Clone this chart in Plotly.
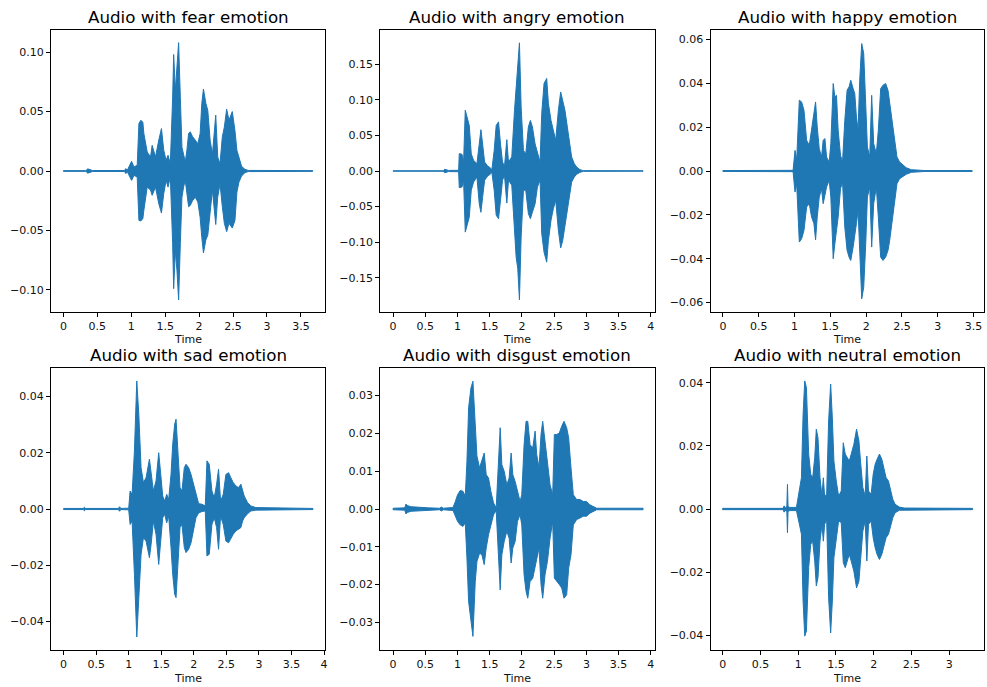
import plotly.graph_objects as go

# ---------------- data: amplitude envelope (upper / lower) ----------------
fear_t = [0, 0.33, 0.36, 0.39, 0.43, 0.90, 0.92, 0.94, 1.005, 1.04, 1.088, 1.113, 1.142, 1.171, 1.186, 1.235, 1.284, 1.308,
          1.357, 1.406, 1.445, 1.479, 1.513, 1.542, 1.576, 1.61, 1.625, 1.65, 1.674, 1.698, 1.723, 1.747, 1.771, 1.796, 1.82,
          1.845, 1.869, 1.903, 1.943, 1.981, 2.015, 2.04, 2.064, 2.099, 2.128, 2.162, 2.196, 2.245, 2.274, 2.308, 2.342, 2.372,
          2.406, 2.44, 2.489, 2.528, 2.557, 2.587, 2.626, 2.675, 2.723, 3.675]
fear_up = [0.0003, 0.0003, 0.0018, 0.0012, 0.0004, 0.0004, 0.0020, 0.0004, 0.0081, 0.0034, 0.0048, 0.040, 0.0427, 0.041,
           0.0315, 0.016, 0.0118, 0.0216, 0.0118, 0.026, 0.0357, 0.0174, 0.009, 0.0132, 0.0062, 0.062, 0.098, 0.068, 0.085,
           0.108, 0.062, 0.020, 0.014, 0.0076, 0.0174, 0.0315, 0.033, 0.029, 0.026, 0.023, 0.0315, 0.057, 0.069, 0.057, 0.051,
           0.026, 0.014, 0.047, 0.0118, 0.0062, 0.0287, 0.037, 0.052, 0.0427, 0.050, 0.034, 0.0174, 0.0104, 0.0039, 0.0014,
           0.0005, 0.0003]
fear_lo = [-0.0003, -0.0003, -0.0018, -0.0012, -0.0004, -0.0004, -0.0022, -0.0004, -0.0079, -0.0037, -0.005, -0.0416, -0.042,
           -0.040, -0.033, -0.0135, -0.016, -0.0205, -0.0135, -0.0275, -0.0354, -0.019, -0.0079, -0.0135, -0.005, -0.061,
           -0.099, -0.067, -0.084, -0.1085, -0.061, -0.022, -0.0135, -0.0079, -0.019, -0.030, -0.029, -0.025, -0.022, -0.026,
           -0.039, -0.056, -0.069, -0.058, -0.054, -0.033, -0.016, -0.045, -0.022, -0.0107, -0.030, -0.044, -0.051, -0.044,
           -0.048, -0.0416, -0.0177, -0.0093, -0.0042, -0.0014, -0.0005, -0.0003]

angry_t = [0, 0.78, 0.80, 0.83, 0.86, 1.017, 1.027, 1.069, 1.094, 1.12, 1.146, 1.182, 1.213, 1.249, 1.301, 1.337, 1.363,
           1.389, 1.42, 1.471, 1.507, 1.533, 1.569, 1.60, 1.636, 1.667, 1.698, 1.729, 1.765, 1.791, 1.842, 1.884, 1.91, 1.935,
           1.961, 1.987, 2.023, 2.059, 2.10, 2.131, 2.162, 2.204, 2.24, 2.281, 2.307, 2.343, 2.384, 2.41, 2.451, 2.487, 2.524,
           2.565, 2.601, 2.632, 2.668, 2.704, 2.735, 2.771, 2.813, 2.849, 2.90, 2.952, 3.88]
angry_up = [0.0003, 0.0003, 0.0025, 0.0015, 0.0008, 0.0010, 0.0244, 0.0235, 0.0127, 0.0854, 0.076, 0.064, 0.024, 0.015,
            0.0103, 0.043, 0.058, 0.038, 0.0127, 0.0066, 0.0047, 0.0019, 0.029, 0.064, 0.069, 0.038, 0.0127, 0.0066, 0.044,
            0.0127, 0.0197, 0.085, 0.118, 0.135, 0.180, 0.090, 0.029, 0.024, 0.062, 0.071, 0.062, 0.038, 0.027, 0.0127, 0.081,
            0.123, 0.130, 0.095, 0.071, 0.057, 0.043, 0.085, 0.111, 0.099, 0.085, 0.062, 0.043, 0.0197, 0.0103, 0.0056,
            0.0019, 0.0005, 0.0003]
angry_lo = [-0.0003, -0.0003, -0.0025, -0.0015, -0.0008, -0.0010, -0.0235, -0.0225, -0.0131, -0.0858, -0.079, -0.065,
            -0.027, -0.0155, -0.0084, -0.046, -0.058, -0.037, -0.0131, -0.0066, -0.0047, -0.0019, -0.027, -0.062, -0.067,
            -0.041, -0.0131, -0.0061, -0.045, -0.0131, -0.020, -0.083, -0.121, -0.137, -0.181, -0.093, -0.027, -0.027, -0.060,
            -0.067, -0.058, -0.046, -0.0225, -0.0131, -0.088, -0.114, -0.128, -0.098, -0.069, -0.053, -0.041, -0.083, -0.108,
            -0.098, -0.079, -0.062, -0.037, -0.0155, -0.0084, -0.0047, -0.0019, -0.0005, -0.0003]

happy_t = [0, 0.98, 1.007, 1.03, 1.067, 1.099, 1.132, 1.169, 1.206, 1.238, 1.271, 1.294, 1.317, 1.345, 1.377, 1.40, 1.424,
           1.447, 1.484, 1.507, 1.54, 1.563, 1.586, 1.609, 1.642, 1.67, 1.702, 1.734, 1.762, 1.785, 1.818, 1.841, 1.864, 1.887,
           1.91, 1.938, 1.966, 1.994, 2.017, 2.05, 2.077, 2.105, 2.142, 2.17, 2.203, 2.235, 2.272, 2.305, 2.328, 2.365, 2.397,
           2.43, 2.467, 2.513, 2.56, 2.629, 2.75, 2.82, 3.48]
happy_up = [0.0002, 0.0003, 0.0094, 0.0049, 0.0323, 0.0315, 0.0277, 0.014, 0.0117, 0.0186, 0.0247, 0.0315, 0.0201, 0.0102,
            0.0064, 0.014, 0.0148, 0.0064, 0.0041, 0.0125, 0.0399, 0.0338, 0.0345, 0.0186, 0.0072, 0.0041, 0.0231, 0.0368,
            0.0384, 0.0414, 0.0376, 0.0353, 0.0247, 0.0186, 0.0414, 0.0581, 0.0536, 0.0338, 0.011, 0.0064, 0.0345, 0.0125,
            0.0079, 0.0186, 0.0376, 0.0391, 0.0399, 0.0368, 0.0307, 0.0231, 0.014, 0.0064, 0.0041, 0.0026, 0.0015, 0.0006,
            0.0004, 0.0002, 0.0002]
happy_lo = [-0.0002, -0.0003, -0.0096, -0.0058, -0.0324, -0.0309, -0.0271, -0.0164, -0.0149, -0.021, -0.024, -0.0314,
            -0.021, -0.0119, -0.0081, -0.0149, -0.0111, -0.0073, -0.0043, -0.0119, -0.040, -0.0332, -0.0286, -0.021, -0.0081,
            -0.005, -0.0256, -0.0362, -0.0393, -0.0408, -0.0347, -0.0301, -0.024, -0.018, -0.0393, -0.0583, -0.053, -0.0332,
            -0.0119, -0.0073, -0.0347, -0.0149, -0.0073, -0.021, -0.0393, -0.0408, -0.0393, -0.0362, -0.0317, -0.024, -0.0149,
            -0.0058, -0.0035, -0.0027, -0.0015, -0.0006, -0.0004, -0.0002, -0.0002]

sad_t = [0, 0.30, 0.32, 0.34, 0.84, 0.86, 0.88, 1.00, 1.022, 1.052, 1.088, 1.124, 1.155, 1.19, 1.226, 1.267, 1.318, 1.344,
         1.379, 1.42, 1.461, 1.492, 1.522, 1.553, 1.584, 1.614, 1.65, 1.676, 1.706, 1.727, 1.757, 1.788, 1.818, 1.854, 1.88,
         1.921, 1.957, 1.992, 2.033, 2.074, 2.125, 2.176, 2.202, 2.237, 2.278, 2.314, 2.35, 2.38, 2.411, 2.452, 2.493, 2.534,
         2.569, 2.605, 2.646, 2.687, 2.723, 2.749, 2.774, 2.825, 2.876, 2.953, 3.83]
sad_up = [0.0002, 0.0002, 0.0006, 0.0002, 0.0002, 0.0008, 0.0002, 0.0003, 0.0064, 0.0052, 0.0206, 0.0455, 0.0337, 0.0147,
          0.0094, 0.0111, 0.0177, 0.0123, 0.0064, 0.010, 0.020, 0.0123, 0.0046, 0.0028, 0.0052, 0.0034, 0.0123, 0.023, 0.0301,
          0.0319, 0.0218, 0.0076, 0.0064, 0.0147, 0.0159, 0.0147, 0.0123, 0.0094, 0.0052, 0.0019, 0.0017, 0.0011, 0.0171,
          0.0159, 0.0064, 0.004, 0.0088, 0.0141, 0.0028, 0.0052, 0.0123, 0.0129, 0.0111, 0.0094, 0.0082, 0.0076, 0.0088,
          0.0064, 0.0046, 0.0023, 0.0011, 0.0005, 0.0002]
sad_lo = [-0.0002, -0.0002, -0.0006, -0.0002, -0.0002, -0.0008, -0.0002, -0.0003, -0.0055, -0.0043, -0.0232, -0.0455,
          -0.0327, -0.0161, -0.0102, -0.0114, -0.0173, -0.0126, -0.0043, -0.009, -0.0197, -0.0114, -0.0031, -0.0019, -0.0049,
          -0.0025, -0.0137, -0.0232, -0.0303, -0.0315, -0.0209, -0.0066, -0.0055, -0.0137, -0.0155, -0.0143, -0.012, -0.0078,
          -0.0031, -0.0014, -0.0009, -0.0007, -0.0167, -0.0161, -0.0055, -0.0031, -0.0066, -0.0143, -0.0025, -0.0055,
          -0.0114, -0.012, -0.0108, -0.009, -0.0078, -0.0072, -0.0066, -0.0043, -0.0031, -0.0017, -0.0007, -0.0004, -0.0002]

disgust_t = [0, 0.18, 0.20, 0.22, 0.28, 0.40, 0.55, 0.72, 0.75, 0.78, 0.93, 0.966, 1.001, 1.042, 1.084, 1.12, 1.146,
             1.172, 1.208, 1.239, 1.275, 1.301, 1.342, 1.378, 1.414, 1.445, 1.481, 1.517, 1.559, 1.60, 1.636, 1.662, 1.688,
             1.724, 1.765, 1.801, 1.832, 1.858, 1.894, 1.93, 1.971, 1.997, 2.033, 2.064, 2.09, 2.126, 2.168, 2.204, 2.229,
             2.265, 2.296, 2.322, 2.358, 2.395, 2.436, 2.477, 2.503, 2.539, 2.58, 2.617, 2.653, 2.694, 2.725, 2.761, 2.797,
             2.849, 2.90, 2.952, 3.003, 3.055, 3.107, 3.16, 3.88]
disgust_up = [0.0002, 0.0003, 0.0013, 0.0009, 0.0006, 0.0004, 0.0003, 0.0002, 0.0005, 0.0002, 0.0004, 0.002, 0.0038,
              0.0049, 0.0047, 0.0034, 0.0126, 0.0268, 0.032, 0.0338, 0.0197, 0.014, 0.0109, 0.0126, 0.0148, 0.0091, 0.0082,
              0.0047, 0.0016, 0.0003, 0.0117, 0.0215, 0.0117, 0.010, 0.0064, 0.0082, 0.0148, 0.0091, 0.0073, 0.0047, 0.002,
              0.0038, 0.017, 0.0232, 0.0232, 0.017, 0.0162, 0.0206, 0.0144, 0.0109, 0.0197, 0.0232, 0.0179, 0.0126, 0.0064,
              0.0038, 0.0197, 0.0197, 0.0201, 0.0219, 0.0232, 0.0215, 0.0188, 0.0109, 0.0038, 0.0025, 0.0025, 0.002, 0.002,
              0.0011, 0.0007, 0.0002, 0.0002]
disgust_lo = [-0.0002, -0.0003, -0.0013, -0.0009, -0.0006, -0.0004, -0.0003, -0.0002, -0.0005, -0.0002, -0.0004, -0.0019,
              -0.0033, -0.0042, -0.0046, -0.0037, -0.013, -0.0245, -0.0298, -0.0337, -0.0192, -0.0139, -0.0117, -0.0121,
              -0.0147, -0.0103, -0.0068, -0.0042, -0.0015, -0.0004, -0.0121, -0.0214, -0.0121, -0.0086, -0.0059, -0.0077,
              -0.0143, -0.0103, -0.0086, -0.0033, -0.0015, -0.0042, -0.0174, -0.0218, -0.0236, -0.0192, -0.0183, -0.0156,
              -0.013, -0.0103, -0.02, -0.0236, -0.0174, -0.0139, -0.0077, -0.0033, -0.0183, -0.0192, -0.02, -0.0209, -0.0236,
              -0.0227, -0.0156, -0.0121, -0.0042, -0.0028, -0.0024, -0.0019, -0.0019, -0.0011, -0.0006, -0.0002, -0.0002]

neutral_t = [0, 0.80, 0.814, 0.83, 0.85, 0.858, 0.866, 0.889, 0.977, 0.999, 1.021, 1.043, 1.065, 1.087, 1.109, 1.139,
             1.166, 1.192, 1.219, 1.24, 1.262, 1.289, 1.315, 1.333, 1.35, 1.377, 1.403, 1.43, 1.452, 1.473, 1.504, 1.535,
             1.57, 1.597, 1.623, 1.65, 1.676, 1.702, 1.737, 1.773, 1.804, 1.825, 1.856, 1.887, 1.909, 1.931, 1.966, 1.993,
             2.019, 2.045, 2.076, 2.107, 2.133, 2.164, 2.195, 2.23, 2.252, 2.283, 2.34, 2.406, 3.31]
neutral_up = [0.0002, 0.0002, 0.001, 0.0004, 0.0008, 0.0078, 0.0008, 0.0005, 0.0005, 0.0036, 0.0057, 0.0099, 0.030, 0.0406,
              0.0385, 0.0174, 0.011, 0.0099, 0.0163, 0.0253, 0.0226, 0.0099, 0.0041, 0.0099, 0.0041, 0.0047, 0.0279, 0.0396,
              0.029, 0.0152, 0.0089, 0.0041, 0.0057, 0.021, 0.0174, 0.0163, 0.0152, 0.0174, 0.0205, 0.0253, 0.0216, 0.0152,
              0.0068, 0.0041, 0.0168, 0.0057, 0.0047, 0.011, 0.0142, 0.0158, 0.0174, 0.0158, 0.0131, 0.0099, 0.0089, 0.0057,
              0.0031, 0.0015, 0.0006, 0.0003, 0.0002]
neutral_lo = [-0.0002, -0.0002, -0.001, -0.0004, -0.0008, -0.0075, -0.0008, -0.0005, -0.0005, -0.0033, -0.0054, -0.008,
              -0.0292, -0.0403, -0.0387, -0.0186, -0.0112, -0.0102, -0.0165, -0.0244, -0.0218, -0.0102, -0.0049, -0.0102,
              -0.0049, -0.0033, -0.0281, -0.0393, -0.0292, -0.0154, -0.0102, -0.0038, -0.0043, -0.017, -0.0186, -0.0165,
              -0.0144, -0.0165, -0.0197, -0.025, -0.0229, -0.0165, -0.007, -0.0038, -0.0165, -0.0049, -0.0038, -0.0091,
              -0.0123, -0.0144, -0.016, -0.0144, -0.0123, -0.0091, -0.008, -0.0049, -0.0028, -0.0012, -0.0004, -0.0003,
              -0.0002]

emotions = ["fear", "angry", "happy", "sad", "disgust", "neutral"]
x_tick_max = [3.5, 4.0, 3.5, 4.0, 4.0, 3.0]
y_tick_step = [0.05, 0.05, 0.02, 0.02, 0.01, 0.02]
y_tick_max = [0.10, 0.15, 0.06, 0.04, 0.03, 0.04]

# ---------------- layout helpers ----------------
W, H = 987, 687
COLOR = "#1f77b4"
FONT = "DejaVu Sans"
col_px = [(51, 326), (381, 656), (712, 986)]
row_px = [(30, 312), (368, 650)]
x_ranges = [(-0.184, 3.86), (-0.2, 4.06), (-0.172, 3.645), (-0.195, 4.02), (-0.2, 4.06), (-0.16, 3.46)]
y_ranges = [0.1186, 0.198, 0.0643, 0.0501, 0.0373, 0.0447]

series = {
    "fear": (fear_t, fear_up, fear_lo),
    "angry": (angry_t, angry_up, angry_lo),
    "happy": (happy_t, happy_up, happy_lo),
    "sad": (sad_t, sad_up, sad_lo),
    "disgust": (disgust_t, disgust_up, disgust_lo),
    "neutral": (neutral_t, neutral_up, neutral_lo),
}


def fmt_x(v):
    return ("%.1f" % v).rstrip("0").rstrip(".")


def fmt_y(v):
    s = "%.2f" % abs(v)
    if v < -1e-9:
        return "\u2212" + s
    return s


fig = go.Figure()
annotations = []
for i, emo in enumerate(emotions):
    r, c = divmod(i, 3)
    ax = "" if i == 0 else str(i + 1)
    t, up, lo = series[emo]
    xs = list(t) + list(t[::-1]) + [t[0]]
    ys = list(up) + list(lo[::-1]) + [up[0]]
    fig.add_trace(go.Scatter(
        x=xs, y=ys, mode="lines", fill="toself", fillcolor=COLOR,
        line=dict(color=COLOR, width=1), hoverinfo="skip", showlegend=False,
        xaxis="x" + ax, yaxis="y" + ax))

    x0, x1 = col_px[c]
    y0, y1 = row_px[r]
    xdom = [x0 / W, x1 / W]
    ydom = [1 - y1 / H, 1 - y0 / H]

    n = int(round(x_tick_max[i] / 0.5))
    xt = [k * 0.5 for k in range(n + 1)]
    m = int(round(y_tick_max[i] / y_tick_step[i]))
    yt = [k * y_tick_step[i] for k in range(-m, m + 1)]

    common = dict(showline=True, mirror=True, linecolor="black", linewidth=1,
                  ticks="outside", ticklen=4, tickwidth=1, tickcolor="black",
                  showgrid=False, zeroline=False,
                  tickfont=dict(family=FONT, size=11, color="#111111"))
    fig.update_layout(**{
        "xaxis" + ax: dict(domain=xdom, anchor="y" + ax, range=list(x_ranges[i]),
                           tickmode="array", tickvals=xt, ticktext=[fmt_x(v) for v in xt], **common),
        "yaxis" + ax: dict(domain=ydom, anchor="x" + ax, range=[-y_ranges[i], y_ranges[i]],
                           tickmode="array", tickvals=yt, ticktext=[fmt_y(v) for v in yt], **common),
    })
    xc = (xdom[0] + xdom[1]) / 2
    annotations.append(dict(text="Audio with %s emotion" % emo, x=xc, y=ydom[1], xref="paper", yref="paper",
                            xanchor="center", yanchor="bottom", yshift=1, showarrow=False,
                            font=dict(family=FONT, size=16.7, color="black")))
    annotations.append(dict(text="Time", x=xc, y=ydom[0], xref="paper", yref="paper",
                            xanchor="center", yanchor="middle", yshift=-28, showarrow=False,
                            font=dict(family=FONT, size=11, color="#111111")))

fig.update_layout(width=W, height=H, margin=dict(l=0, r=0, t=0, b=0),
                  paper_bgcolor="white", plot_bgcolor="white",
                  annotations=annotations, showlegend=False)

fig.write_html("out.html")
